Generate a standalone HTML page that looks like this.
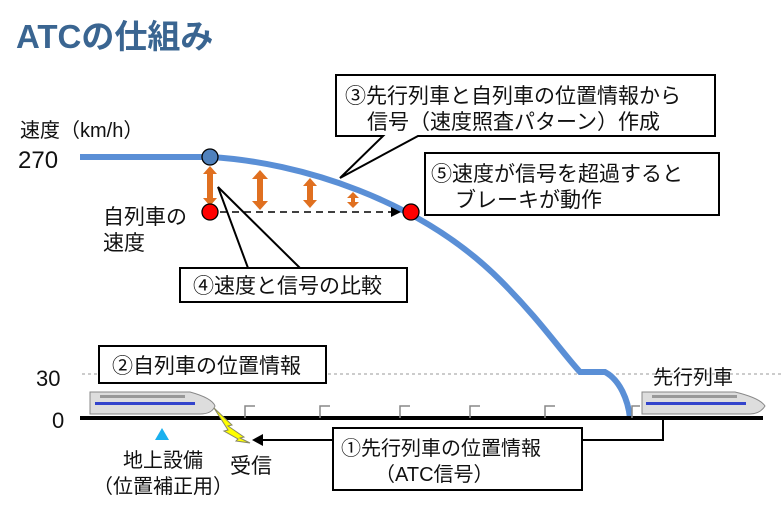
<!DOCTYPE html>
<html><head><meta charset="utf-8"><style>
body{margin:0;background:#fff}
svg{display:block}
text{font-family:"Liberation Sans","Noto Sans CJK JP",sans-serif;fill:#111}
</style></head><body>
<svg width="781" height="515" viewBox="0 0 781 515" xmlns="http://www.w3.org/2000/svg">
<text x="16" y="48" font-size="33" font-weight="bold" style="fill:#3a6591">ATCの仕組み</text>
<text x="20" y="137" font-size="20">速度（km/h）</text>
<text x="18" y="168" font-size="24">270</text>
<text x="36" y="386" font-size="22">30</text>
<text x="52" y="428" font-size="22">0</text>
<line x1="82" y1="374" x2="781" y2="374" stroke="#999" stroke-dasharray="3,3" stroke-width="1"/>
<path d="M80 157 L210 157 C300 162 420 200 500 280 C540 320 560 350 580 372 L605 372 C620 380 628 400 630 418" fill="none" stroke="#5a8fd6" stroke-width="6"/>
<line x1="80" y1="418" x2="763" y2="418" stroke="#000" stroke-width="4"/>
<g stroke="#888" stroke-width="1.5" fill="none">
<path d="M245 418 V406 H255"/><path d="M320 418 V406 H330"/><path d="M400 418 V406 H410"/><path d="M470 418 V406 H480"/><path d="M545 418 V406 H555"/><path d="M632 418 V406 H640"/>
</g>
<g fill="#e07020">
<path d="M210 166 l-7 8 h4 v24 h-4 l7 8 l7 -8 h-4 v-24 h4z"/>
<path d="M260 170 l-8 9 h5 v22 h-5 l8 9 l8 -9 h-5 v-22 h5z"/>
<path d="M310 178 l-7 8 h4 v14 h-4 l7 8 l7 -8 h-4 v-14 h4z"/>
<path d="M353 192 l-6 6 h4 v4 h-4 l6 6 l6 -6 h-4 v-4 h4z"/>
</g>
<line x1="220" y1="212" x2="392" y2="212" stroke="#000" stroke-width="1.5" stroke-dasharray="7,5"/>
<path d="M401 212 l-10 -5 v10z" fill="#000"/>
<circle cx="210" cy="157" r="8" fill="#4f81bd" stroke="#000" stroke-width="1.3"/>
<circle cx="210" cy="212" r="8" fill="#f00" stroke="#000" stroke-width="1.3"/>
<circle cx="411" cy="212" r="8" fill="#f00" stroke="#000" stroke-width="1.3"/>
<text x="103" y="224" font-size="21">自列車の</text>
<text x="103" y="250" font-size="21">速度</text>
<path d="M336 75 H715 V136 H418 L340 178 L383 136 H336 Z" fill="#fff" stroke="#000" stroke-width="2"/>
<text x="345" y="103" font-size="21">③先行列車と自列車の位置情報から</text>
<text x="367" y="129" font-size="21">信号（速度照査パターン）作成</text>
<rect x="425" y="153" width="294" height="62" fill="#fff" stroke="#000" stroke-width="2"/>
<text x="431" y="181" font-size="21">⑤速度が信号を超過すると</text>
<text x="455" y="207" font-size="21">ブレーキが動作</text>
<path d="M180 268 H407 V302 H180 Z" fill="#fff" stroke="#000" stroke-width="2"/>
<path d="M248 268 L218 187 L300 268" fill="none" stroke="#000" stroke-width="2"/>
<text x="193" y="293" font-size="21">④速度と信号の比較</text>
<rect x="99" y="346" width="227" height="37" fill="#fff" stroke="#000" stroke-width="2"/>
<text x="112" y="373" font-size="21">②自列車の位置情報</text>
<g>
<path d="M90 392 H190 Q212 398 215 406 Q212 414 200 414 H90 Z" fill="#ddd" stroke="#888"/>
<rect x="95" y="402" width="100" height="3" fill="#3344cc"/>
<rect x="100" y="395" width="85" height="3" fill="#999"/>
<path d="M642 392 H735 Q760 398 765 406 Q760 414 750 414 H642 Z" fill="#ddd" stroke="#888"/>
<rect x="646" y="402" width="100" height="3" fill="#3344cc"/>
<rect x="652" y="395" width="85" height="3" fill="#999"/>
</g>
<text x="653" y="384" font-size="20">先行列車</text>
<path d="M162 428 l-7 12 h14z" fill="#1ab0ee"/>
<text x="163" y="467" font-size="20" text-anchor="middle">地上設備</text>
<text x="163" y="493" font-size="20" text-anchor="middle">（位置補正用）</text>
<path d="M214 408 L232 425 L228 426 L244 437 L240 438 L250 443 L236 441 L238 439 L224 431 L228 430 Z" fill="#ff0" stroke="#886" stroke-width="1"/>
<text x="230" y="473" font-size="21">受信</text>
<rect x="333" y="428" width="249" height="62" fill="#fff" stroke="#000" stroke-width="2"/>
<path d="M582 440 H663 V418" fill="none" stroke="#000" stroke-width="2"/>
<line x1="262" y1="440" x2="333" y2="440" stroke="#000" stroke-width="2"/>
<path d="M252 440 l11 -6 v12z" fill="#000"/>
<text x="341" y="455" font-size="20">①先行列車の位置情報</text>
<text x="375" y="481" font-size="20">（ATC信号）</text>
</svg>
</body></html>
